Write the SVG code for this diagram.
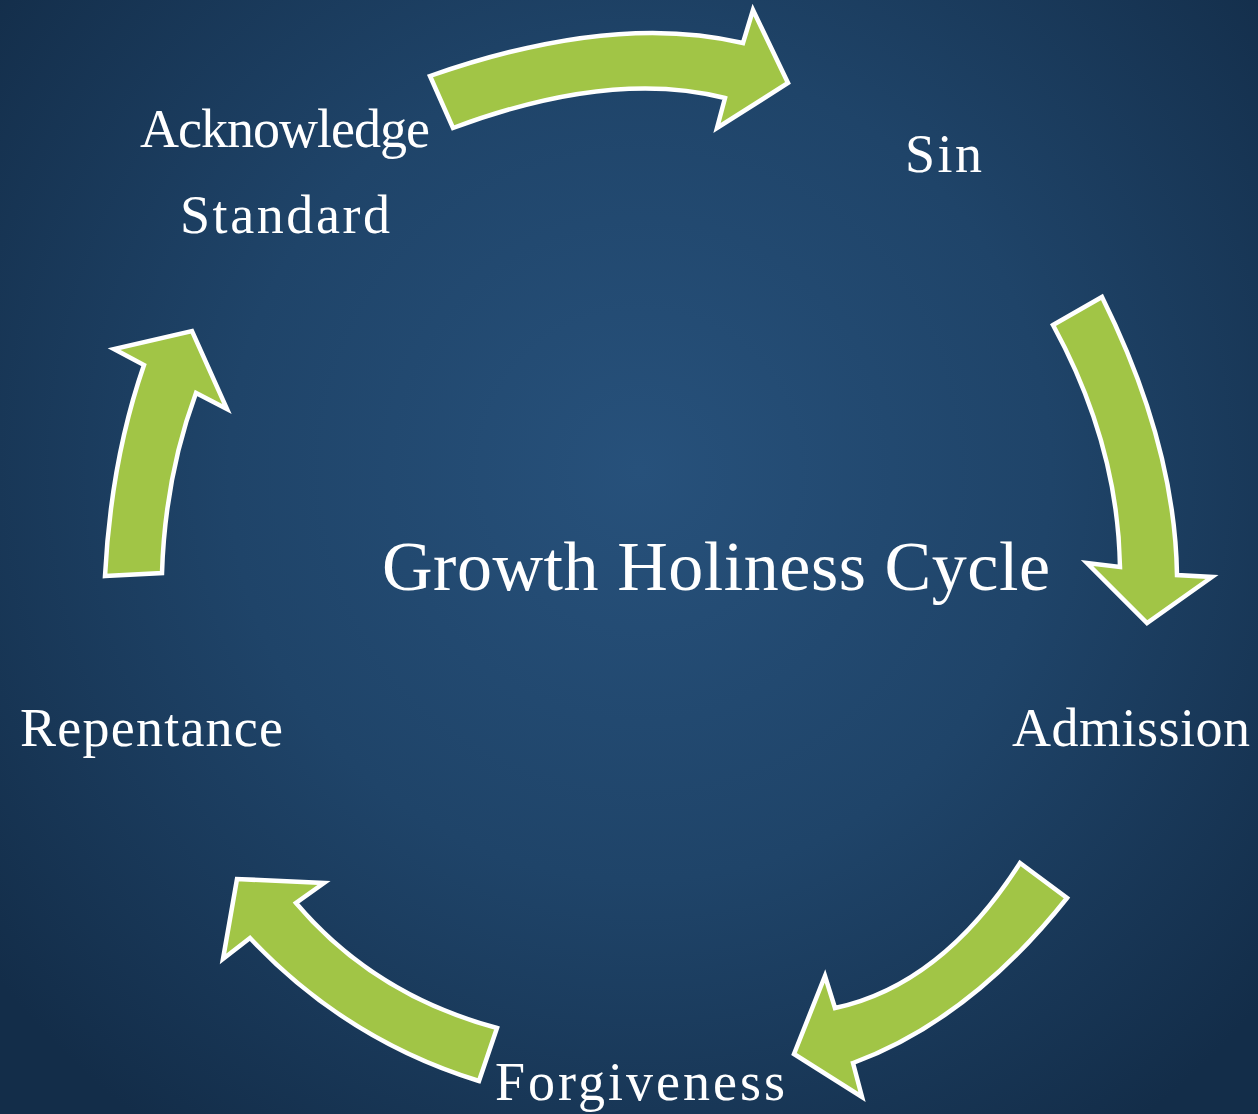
<svg xmlns="http://www.w3.org/2000/svg" width="1258" height="1114" viewBox="0 0 1258 1114">
  <defs>
    <radialGradient id="bg" cx="640" cy="470" r="820" gradientUnits="userSpaceOnUse">
      <stop offset="0" stop-color="#27517b"/>
      <stop offset="0.5" stop-color="#1f4469"/>
      <stop offset="1" stop-color="#132d49"/>
    </radialGradient>
    <style>
      .arrow { fill: #a1c546; stroke: #ffffff; stroke-width: 4.5; stroke-linejoin: miter; }
      .lbl { fill: #ffffff; font-family: "Liberation Serif", "DejaVu Serif", serif; font-size: 54px; }
      .title { fill: #ffffff; font-family: "Liberation Serif", "DejaVu Serif", serif; font-size: 70px; }
    </style>
  </defs>
  <rect x="0" y="0" width="1258" height="1114" fill="url(#bg)"/>

  <g id="connectors">
    <path id="arrow-ack-sin" class="arrow" d="M430,76 Q613,12 743,43 L753,10 L788,83 L717,128 L725,98 Q611,69 453,128 Z"/>
    <path id="arrow-sin-adm" class="arrow" d="M1053,325 L1102,297 Q1175,444 1177,575 L1212,577 L1147,623 L1087,563 L1120,567 Q1118,444 1053,325 Z"/>
    <path id="arrow-adm-for" class="arrow" d="M1020,863 L1067,898 Q970,1020 853,1063 L862,1097 L794,1054 L825,976 L835,1008 Q942,985 1020,863 Z"/>
    <path id="arrow-for-rep" class="arrow" d="M497,1028 L479,1081 Q346,1040 250,938 L223,959 L237,879 L324,883 L296,903 Q374,995 497,1028 Z"/>
    <path id="arrow-rep-ack" class="arrow" d="M105,576 L162,573 Q165,477 196,393 L227,409 L192,331 L114,349 L144,365 Q111,460 105,576 Z"/>
  </g>

  <g id="node-title">
    <text class="title" x="382" y="590" textLength="668" lengthAdjust="spacing">Growth Holiness Cycle</text>
  </g>
  <g id="node-acknowledge">
    <text class="lbl" x="140" y="147" textLength="290" lengthAdjust="spacing">Acknowledge</text>
    <text class="lbl" x="180" y="233" textLength="210" lengthAdjust="spacing">Standard</text>
  </g>
  <g id="node-sin">
    <text class="lbl" x="905" y="172" textLength="77" lengthAdjust="spacing">Sin</text>
  </g>
  <g id="node-admission">
    <text class="lbl" x="1012" y="746" textLength="238" lengthAdjust="spacing">Admission</text>
  </g>
  <g id="node-forgiveness">
    <text class="lbl" x="495" y="1100" textLength="290" lengthAdjust="spacing">Forgiveness</text>
  </g>
  <g id="node-repentance">
    <text class="lbl" x="20" y="746" textLength="263" lengthAdjust="spacing">Repentance</text>
  </g>
</svg>
